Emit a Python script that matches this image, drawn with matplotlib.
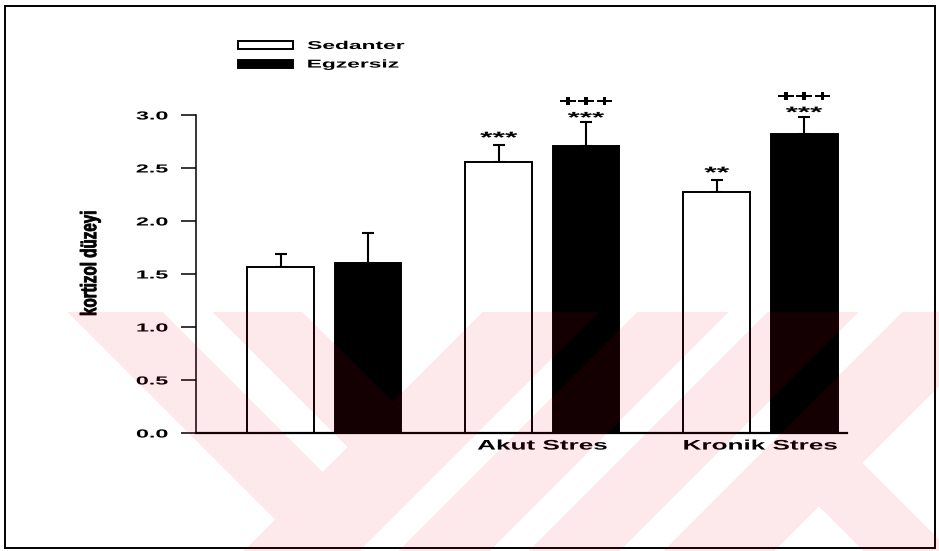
import numpy as np
import matplotlib
matplotlib.use("Agg")
import matplotlib.pyplot as plt
from matplotlib.patches import Patch, Rectangle
from matplotlib.patheffects import AbstractPathEffect, Stroke, Normal
from matplotlib.transforms import Affine2D

# ---- data -------------------------------------------------------------
groups = ["", "Akut Stres", "Kronik Stres"]
series = ["Sedanter", "Egzersiz"]
sedanter_mean = [1.57, 2.56, 2.27]
sedanter_err = [0.12, 0.16, 0.12]
egzersiz_mean = [1.60, 2.71, 2.82]
egzersiz_err = [0.29, 0.22, 0.16]
sedanter_sig = ["", "***", "**"]
egzersiz_sig = ["", "***", "***"]
egzersiz_sig2 = ["", "+++", "+++"]
y_ticks = [0.0, 0.5, 1.0, 1.5, 2.0, 2.5, 3.0]
y_label = "kortizol düzeyi"

plt.rcParams["font.family"] = ["Liberation Sans", "DejaVu Sans"]
plt.rcParams["font.weight"] = "bold"


class Widen(AbstractPathEffect):
    """Draw text glyphs stretched along (sx) and across (sy) the writing direction."""

    def __init__(self, sx=2.0, sy=1.0, anchor="center", stroke=0.0):
        super().__init__()
        self.sx, self.sy, self.anchor, self.stroke = sx, sy, anchor, stroke

    def draw_path(self, renderer, gc, tpath, affine, rgbFace=None):
        ext = tpath.get_extents()
        if self.anchor == "left":
            cx = ext.x0
        elif self.anchor == "right":
            cx = ext.x1
        else:
            cx = 0.5 * (ext.x0 + ext.x1)
        cy = 0.5 * (ext.y0 + ext.y1)
        pre = (Affine2D().translate(-cx, -cy).scale(self.sx, self.sy)
               .translate(cx, cy))
        if self.stroke > 0:
            gc0 = renderer.new_gc()
            gc0.copy_properties(gc)
            gc0.set_linewidth(self.stroke)
            gc0.set_foreground(rgbFace if rgbFace is not None else "black")
            renderer.draw_path(gc0, tpath, pre + affine, rgbFace)
            gc0.restore()
        else:
            renderer.draw_path(gc, tpath, pre + affine, rgbFace)


W, H, DPI = 939, 551, 100
fig = plt.figure(figsize=(W / DPI, H / DPI), dpi=DPI)
fig.patch.set_facecolor("white")

# axes box in pixel terms: x 196..847, y 115..433 (from top)
ax = fig.add_axes([196 / W, 1 - 433 / H, (847 - 196) / W, (433 - 115) / H])
ax.set_facecolor("none")

x = np.arange(len(groups))
off, bw = 0.2, 0.307
ax.bar(x - off, sedanter_mean, bw, facecolor="white", edgecolor="black",
       linewidth=1.4, zorder=2)
ax.bar(x + off, egzersiz_mean, bw, facecolor="black", edgecolor="black",
       linewidth=1.4, zorder=2)

zeros = np.zeros(len(groups))
ax.errorbar(x - off, sedanter_mean, yerr=[zeros, sedanter_err], fmt="none",
            ecolor="black", elinewidth=1.5, capsize=4.3, capthick=1.5, zorder=1)
ax.errorbar(x + off, egzersiz_mean, yerr=[zeros, egzersiz_err], fmt="none",
            ecolor="black", elinewidth=1.5, capsize=4.3, capthick=1.5, zorder=1)

# significance marks above the error bars
px = 1 / 106.0
for xi, m, e, s in zip(x - off, sedanter_mean, sedanter_err, sedanter_sig):
    if s:
        ax.text(xi, m + e + 2 * px, s, ha="center", va="baseline", fontsize=11.5,
                fontweight="bold", path_effects=[Widen(2.0)])
for xi, m, e, s, s2 in zip(x + off, egzersiz_mean, egzersiz_err, egzersiz_sig, egzersiz_sig2):
    marks = "\n".join(t for t in (s2, s) if t)
    if marks:
        ax.text(xi, m + e + 0 * px, marks, ha="center", va="baseline",
                multialignment="center", fontsize=11, linespacing=1.2,
                fontweight="bold", path_effects=[Widen(2.05)])

ax.set_xlim(-0.589, 2.397)
ax.set_ylim(0, 3.0)
ax.set_yticks(y_ticks)
ax.set_yticklabels([f"{t:.1f}" for t in y_ticks])
ax.set_xticks(x)
ax.set_xticklabels(groups)

for side in ("top", "right"):
    ax.spines[side].set_visible(False)
ax.spines["left"].set_linewidth(1.1)
ax.spines["bottom"].set_linewidth(1.6)

ax.tick_params(axis="y", length=10.8, width=1.1, pad=9.4, labelsize=8.4)
ax.tick_params(axis="x", length=0, pad=4.0, labelsize=10)
for lbl in ax.get_yticklabels():
    lbl.set_fontweight("bold")
    lbl.set_path_effects([Widen(2.0, anchor="right")])
for lbl in ax.get_xticklabels():
    lbl.set_fontweight("bold")
    lbl.set_path_effects([Widen(1.88)])

ax.set_ylabel(y_label, fontsize=11.5, fontweight="bold",
              path_effects=[Widen(0.95, 1.4, stroke=0.6)])
ax.yaxis.set_label_coords((90 - 196) / 651, (433 - 263) / 318)
ax.yaxis.label.set_va("center")

handles = [Patch(facecolor="white", edgecolor="black", linewidth=1.4),
           Patch(facecolor="black", edgecolor="black", linewidth=1.4)]
leg = fig.legend(handles, series, loc="upper left",
                 bbox_to_anchor=(238 / W, 1 - 41 / H), frameon=False,
                 fontsize=8.2, handlelength=4.8, handleheight=0.7,
                 handletextpad=1.3, labelspacing=0.75, borderpad=0,
                 borderaxespad=0)
for t in leg.get_texts():
    t.set_fontweight("bold")
    t.set_path_effects([Widen(2.0, anchor="left")])

# page frame
fig.add_artist(Rectangle((5 / W, 1 - 548 / H), 930 / W, 542 / H,
                         transform=fig.transFigure, fill=False,
                         edgecolor="black", linewidth=1.4))

# faint diagonal watermark laid over the lower half of the page
yy, xx = np.mgrid[0:H, 0:W] + 0.5
u = xx - yy
v = xx + yy


def band(q, lo, hi):
    return (q >= lo) & (q <= hi)


mask = ((band(u, -244, -150) & (v < 860)) | (band(u, -99, -10) & (v < 860))
        | band(v, 795, 910) | band(v, 950, 1040) | band(v, 1080, 1170)
        | band(v, 1215, 1325) | ((v > 1325) & band(u, 313, 399)))
mask &= yy >= 312
wm = np.zeros((H, W, 4), dtype=np.uint8)
wm[..., 0] = 232
wm[..., 1] = 0
wm[..., 2] = 46
wm[..., 3] = np.where(mask, 22, 0)
fig.figimage(wm, xo=0, yo=0, origin="upper", zorder=10)

fig.savefig("out.png", dpi=DPI, facecolor="white")
